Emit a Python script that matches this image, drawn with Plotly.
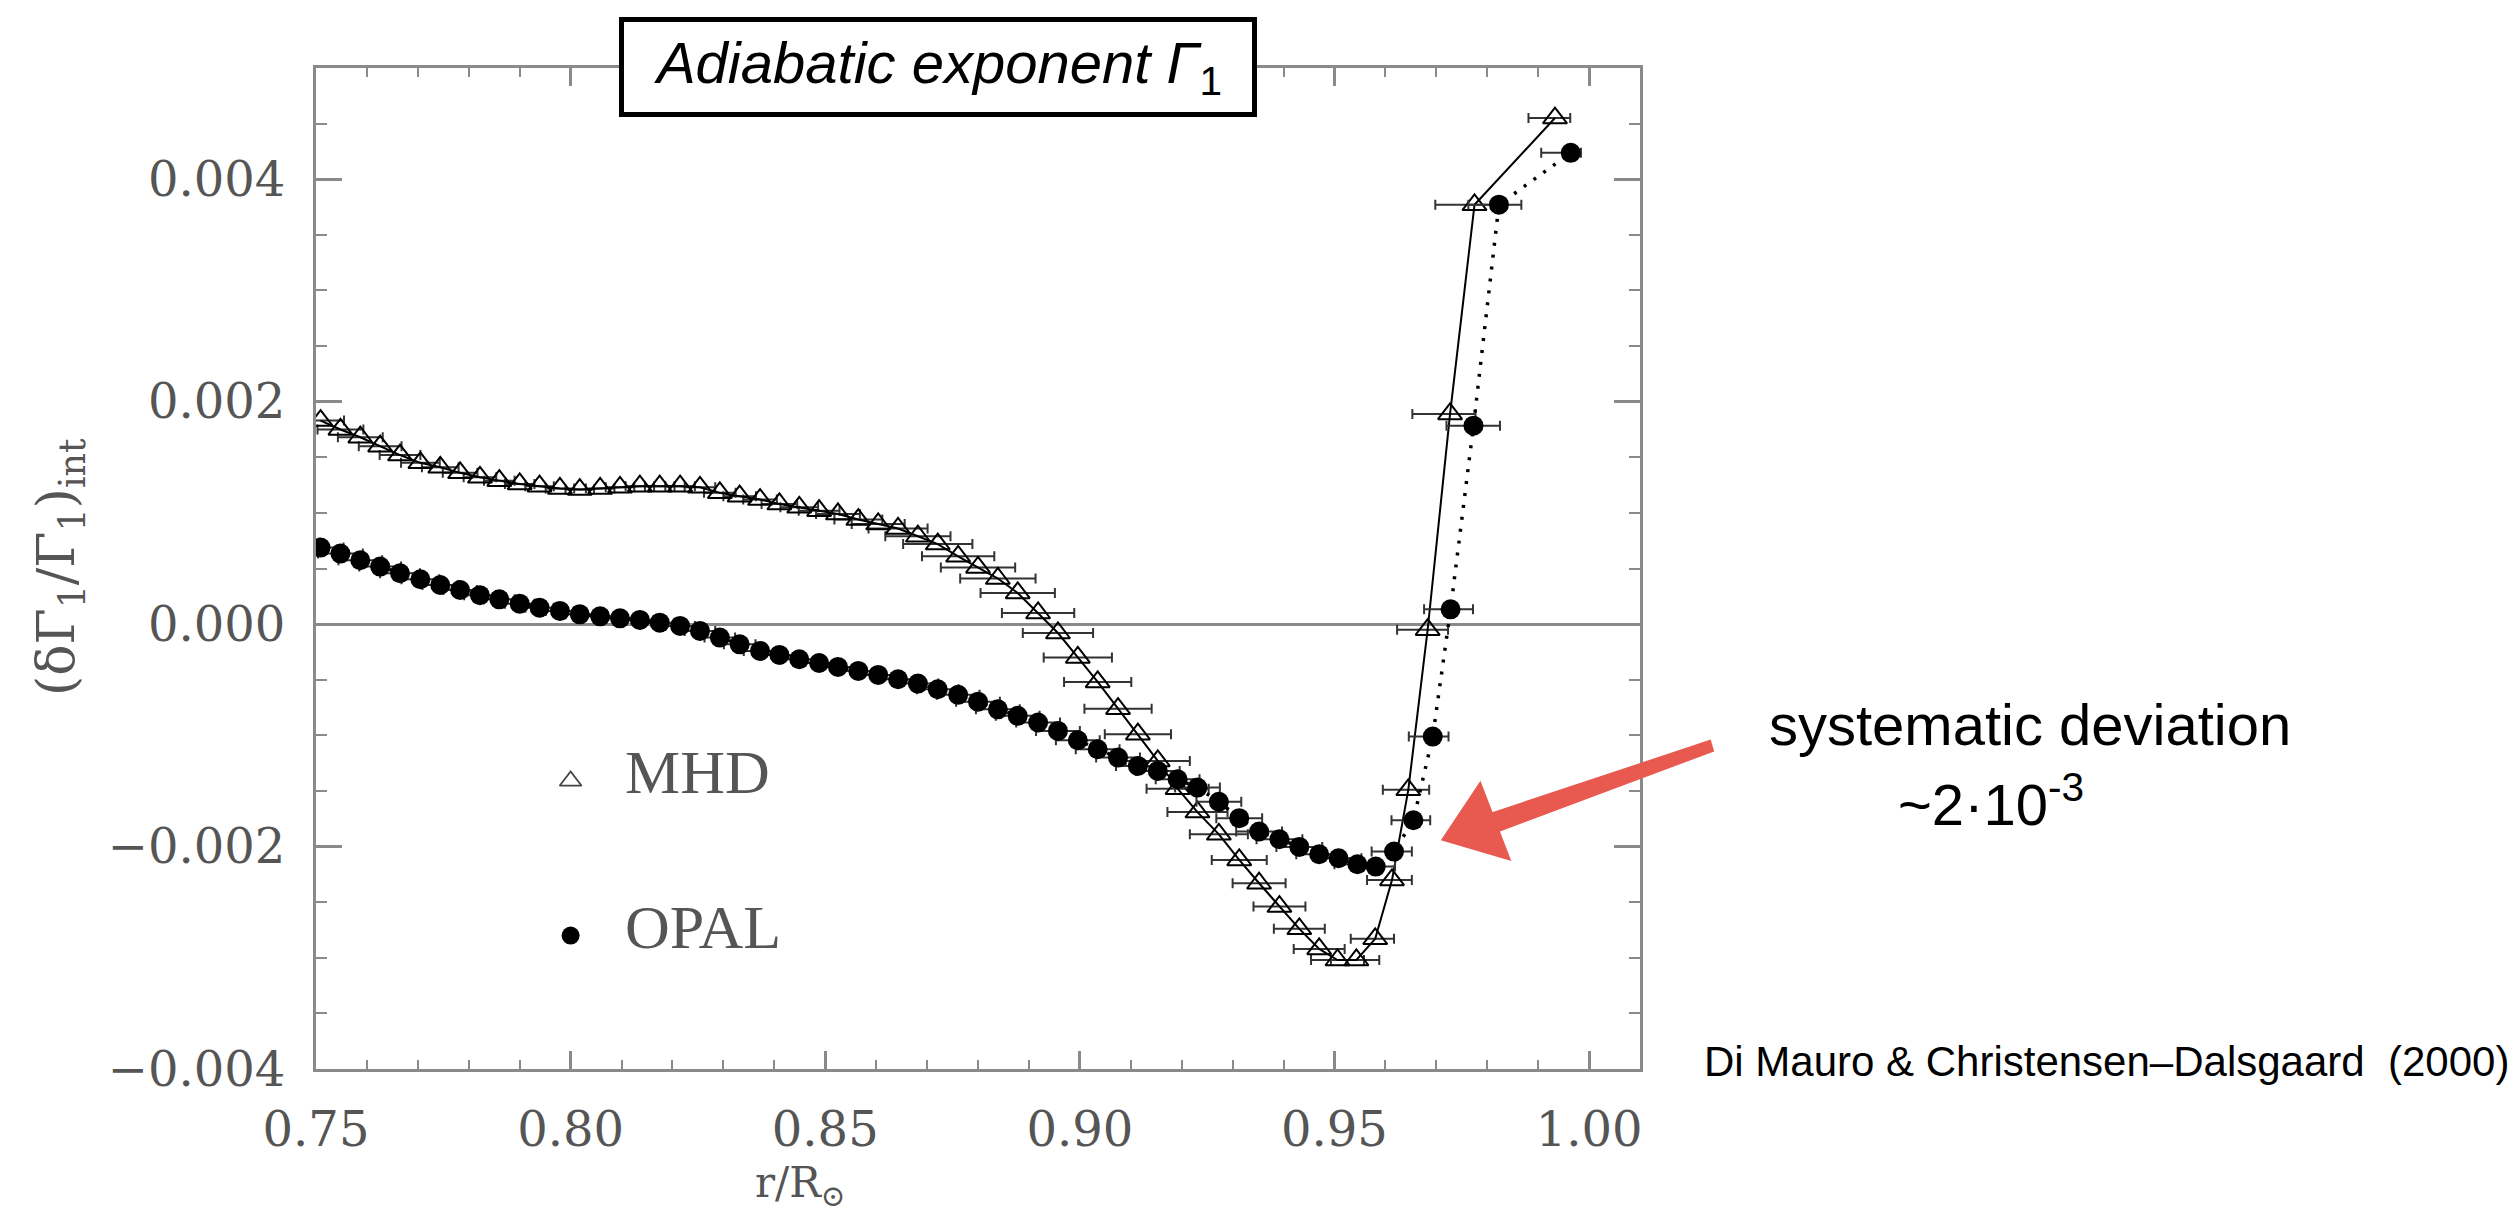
import plotly.graph_objects as go

# ---------------- data ----------------
opal_r = [0.7509, 0.7548, 0.7587, 0.7626, 0.7665, 0.7705, 0.7744, 0.7783, 0.7822, 0.7860,
          0.7900, 0.7939, 0.7979, 0.8018, 0.8058, 0.8097, 0.8136, 0.8175, 0.8215, 0.8254,
          0.8293, 0.8332, 0.8372, 0.8410, 0.8449, 0.8488, 0.8525, 0.8565, 0.8604, 0.8643,
          0.8682, 0.8721, 0.8761, 0.8800, 0.8839, 0.8878, 0.8918, 0.8957, 0.8996, 0.9035,
          0.9075, 0.9114, 0.9153, 0.9192, 0.9231, 0.9273, 0.9313, 0.9352, 0.9392, 0.9431,
          0.9470, 0.9508, 0.9545, 0.9581, 0.9617, 0.9655, 0.9693, 0.9728, 0.9773, 0.9823,
          0.9964]
opal_dg = [0.000688, 0.000634, 0.000574, 0.000517, 0.000457, 0.000403, 0.000352, 0.000307, 0.000259, 0.000223,
           0.000184, 0.000148, 0.000119, 0.000088, 0.000070, 0.000052, 0.000038, 0.000013, -0.000016, -0.000061,
           -0.000121, -0.000182, -0.000241, -0.000277, -0.000316, -0.000350, -0.000385, -0.000421, -0.000457, -0.000496,
           -0.000535, -0.000586, -0.000636, -0.000697, -0.000766, -0.000825, -0.000885, -0.000960, -0.001044, -0.001125,
           -0.001200, -0.001275, -0.001320, -0.001395, -0.001470, -0.001597, -0.001745, -0.001865, -0.001934, -0.002003,
           -0.002069, -0.002105, -0.002159, -0.002180, -0.002045, -0.001763, -0.001011, 0.000133, 0.001784, 0.003771,
           0.004237]
opal_err_minus = [0.0045, 0.0044, 0.0043, 0.0041, 0.0039, 0.0037, 0.0035, 0.0033, 0.0031,
                  0.0030, 0.0029, 0.0028, 0.0028, 0.0028, 0.0028, 0.0028, 0.0028, 0.0029, 0.0029, 0.0030, 0.0030,
                  0.0031, 0.0032, 0.0033, 0.0034, 0.0035, 0.0036, 0.0037, 0.0038, 0.0039,
                  0.0040, 0.0041, 0.0042, 0.0043, 0.0043, 0.0043, 0.0043, 0.0043, 0.0043, 0.0043, 0.0043, 0.0043, 0.0043, 0.0043,
                  0.0044, 0.0044, 0.0045, 0.0045, 0.0045, 0.0045, 0.0045, 0.0045,
                  0.0045, 0.0045, 0.0044, 0.0043, 0.0047, 0.0052, 0.0053, 0.0060, 0.0058]
opal_err_plus = [0.0045, 0.0044, 0.0043, 0.0041, 0.0039, 0.0037, 0.0035, 0.0033, 0.0031,
                 0.0030, 0.0029, 0.0028, 0.0028, 0.0028, 0.0028, 0.0028, 0.0028, 0.0029, 0.0029, 0.0030, 0.0030,
                 0.0031, 0.0032, 0.0033, 0.0034, 0.0035, 0.0036, 0.0037, 0.0038, 0.0039,
                 0.0040, 0.0041, 0.0042, 0.0043, 0.0043, 0.0043, 0.0043, 0.0043, 0.0043, 0.0043, 0.0043, 0.0043, 0.0043, 0.0043,
                 0.0044, 0.0044, 0.0045, 0.0045, 0.0045, 0.0045, 0.0045, 0.0045,
                 0.0040, 0.0038, 0.0035, 0.0033, 0.0031, 0.0044, 0.0052, 0.0044, 0.0020]

mhd_r = [0.7509, 0.7548, 0.7587, 0.7626, 0.7665, 0.7705, 0.7744, 0.7783, 0.7822, 0.7860,
         0.7900, 0.7939, 0.7979, 0.8018, 0.8058, 0.8097, 0.8136, 0.8175, 0.8215, 0.8254,
         0.8293, 0.8332, 0.8372, 0.8410, 0.8449, 0.8488, 0.8525, 0.8565, 0.8604, 0.8643,
         0.8682, 0.8721, 0.8761, 0.8800, 0.8839, 0.8878, 0.8918, 0.8957, 0.8996, 0.9035,
         0.9075, 0.9114, 0.9153, 0.9192, 0.9231, 0.9273, 0.9313, 0.9352, 0.9392, 0.9431,
         0.9470, 0.9506, 0.9543, 0.9580, 0.9613, 0.9645, 0.9683, 0.9727, 0.9775, 0.9933]
mhd_dg = [0.00183, 0.00175, 0.00168, 0.00160, 0.00152, 0.00145, 0.00141, 0.00136, 0.00132, 0.00129,
          0.00126, 0.00124, 0.00122, 0.00121, 0.00122, 0.00123, 0.00124, 0.00124, 0.00124, 0.00123,
          0.00118, 0.00115, 0.00112, 0.00108, 0.00105, 0.00102, 0.00099, 0.00094, 0.00090, 0.00086,
          0.00079, 0.00072, 0.00061, 0.00051, 0.00041, 0.00028, 0.00010, -0.00008, -0.00030, -0.00052,
          -0.00076, -0.00099, -0.00123, -0.00148, -0.00169, -0.00189, -0.00212, -0.00233, -0.00254, -0.00274,
          -0.00292, -0.00302, -0.00302, -0.00283, -0.00230, -0.00149, -0.00005, 0.00189, 0.00377, 0.00455]
mhd_err_minus = [0.0046, 0.0045, 0.0044, 0.0042, 0.0040, 0.0038, 0.0036, 0.0034, 0.0032,
                 0.0030, 0.0029, 0.0028, 0.0028, 0.0028, 0.0028, 0.0028, 0.0028, 0.0029, 0.0029, 0.0030, 0.0031,
                 0.0032, 0.0033, 0.0035, 0.0037, 0.0040, 0.0043, 0.0047, 0.0052, 0.0058,
                 0.0064, 0.0068, 0.0071, 0.0073, 0.0074, 0.0073, 0.0071, 0.0069, 0.0067, 0.0066, 0.0066, 0.0065, 0.0063, 0.0061,
                 0.0059, 0.0057, 0.0054, 0.0052, 0.0051, 0.0050, 0.0050, 0.0052,
                 0.0050, 0.0048, 0.0049, 0.0050, 0.0060, 0.0074, 0.0077, 0.0052]
mhd_err_plus = [0.0046, 0.0045, 0.0044, 0.0042, 0.0040, 0.0038, 0.0036, 0.0034, 0.0032,
                0.0030, 0.0029, 0.0028, 0.0028, 0.0028, 0.0028, 0.0028, 0.0028, 0.0029, 0.0029, 0.0030, 0.0031,
                0.0032, 0.0033, 0.0035, 0.0037, 0.0040, 0.0043, 0.0047, 0.0052, 0.0058,
                0.0064, 0.0068, 0.0071, 0.0073, 0.0074, 0.0073, 0.0071, 0.0069, 0.0067, 0.0066, 0.0066, 0.0065, 0.0063, 0.0061,
                0.0059, 0.0057, 0.0054, 0.0052, 0.0051, 0.0050, 0.0050, 0.0052,
                0.0045, 0.0037, 0.0039, 0.0041, 0.0040, 0.0050, 0.0035, 0.0030]

x_range = [0.75, 1.01]
y_range = [-0.004, 0.005]
x_ticks = [0.75, 0.80, 0.85, 0.90, 0.95, 1.00]
y_ticks = [-0.004, -0.002, 0.000, 0.002, 0.004]

legend_labels = ["MHD", "OPAL"]
legend_r = [0.800, 0.800]
legend_dg = [-0.00141, -0.00280]

# ---------------- figure geometry ----------------
W, H = 2517, 1209
ML, MR, MT, MB = 308, 885, 60, 148
PW, PH = W - ML - MR, H - MT - MB


def paper(px, py):
    return (px - ML) / PW, (H - MB - py) / PH


AX_GREY = "#8a8a8a"
TXT_GREY = "#555555"
SERIF = "DejaVu Serif"
LSERIF = "Liberation Serif"
SANS = "Liberation Sans"
RED = "#E8594F"
BAR = "#333333"

fig = go.Figure()

fig.add_trace(go.Scatter(
    x=mhd_r, y=mhd_dg, mode="lines+markers", name="MHD",
    line=dict(color="black", width=2),
    marker=dict(symbol="triangle-up-open", size=21, color="black", line=dict(width=2, color="black")),
    error_x=dict(type="data", symmetric=False, array=mhd_err_plus, arrayminus=mhd_err_minus,
                 color=BAR, thickness=2, width=5),
))
fig.add_trace(go.Scatter(
    x=opal_r, y=opal_dg, mode="lines+markers", name="OPAL",
    line=dict(color="black", width=3.5, dash="3px,9px"),
    marker=dict(symbol="circle", size=20, color="black"),
    error_x=dict(type="data", symmetric=False, array=opal_err_plus, arrayminus=opal_err_minus,
                 color=BAR, thickness=2, width=5),
))
# legend glyphs drawn inside the plot
fig.add_trace(go.Scatter(
    x=[legend_r[0]], y=[legend_dg[0]], mode="markers",
    marker=dict(symbol="triangle-up-open", size=19, color="#444", line=dict(width=1.8, color="#444")),
    hoverinfo="skip"))
fig.add_trace(go.Scatter(
    x=[legend_r[1]], y=[legend_dg[1]], mode="markers",
    marker=dict(symbol="circle", size=18, color="black"), hoverinfo="skip"))

axis_common = dict(
    showline=True, linecolor=AX_GREY, linewidth=3, mirror="ticks",
    showgrid=False, ticks="inside", tickcolor=AX_GREY, tickwidth=2.5,
    tickfont=dict(family=SERIF, size=48, color=TXT_GREY),
)
fig.update_xaxes(
    range=x_range, tickvals=x_ticks, ticktext=[f"{v:.2f}" for v in x_ticks],
    ticklen=18, zeroline=False, ticklabelstandoff=16,
    minor=dict(dtick=0.01, tick0=0.75, ticklen=9, ticks="inside", tickcolor=AX_GREY, tickwidth=2),
    **axis_common)
fig.update_yaxes(
    range=y_range, tickvals=y_ticks, ticktext=[f"{v:.3f}".replace("-", "\u2212") for v in y_ticks],
    ticklen=26, zeroline=True, zerolinecolor=AX_GREY, zerolinewidth=3, ticklabelstandoff=18,
    minor=dict(dtick=0.0005, tick0=0, ticklen=11, ticks="inside", tickcolor=AX_GREY, tickwidth=2),
    **axis_common)

annotations = []
# legend texts
for lab, yv in zip(legend_labels, legend_dg):
    annotations.append(dict(x=0.8102, y=yv + 0.00008, xref="x", yref="y", text=lab, showarrow=False,
                            xanchor="left", yanchor="middle",
                            font=dict(family=LSERIF, size=62, color=TXT_GREY)))
# axis titles
ax_, ay_ = paper(52, 559)
annotations.append(dict(x=ax_, y=ay_, xref="paper", yref="paper", textangle=-90,
                        text="(\u03b4\u0393<sub>1</sub>/\u0393<sub>1</sub>)<sub>int</sub>",
                        showarrow=False, xanchor="center", yanchor="middle",
                        font=dict(family=SERIF, size=52, color=TXT_GREY)))
bx, by = paper(792, 1207)
annotations.append(dict(x=bx, y=by, xref="paper", yref="paper", text="r/R<sub>\u2299</sub>",
                        showarrow=False, xanchor="center", yanchor="bottom",
                        font=dict(family=SERIF, size=42, color=TXT_GREY)))
# boxed title
tx, ty = paper(929.5, 59)
annotations.append(dict(x=tx, y=ty, xref="paper", yref="paper",
                        text="<i>Adiabatic exponent \u0393</i><sub>1</sub>",
                        showarrow=False, xanchor="center", yanchor="middle",
                        width=628, height=90, borderpad=0, bgcolor="white",
                        bordercolor="black", borderwidth=5,
                        font=dict(family=SANS, size=58, color="black")))
# right-hand notes
sx, sy = paper(1759, 716)
annotations.append(dict(x=sx, y=sy, xref="paper", yref="paper", text="systematic deviation",
                        showarrow=False, xanchor="left", yanchor="middle",
                        font=dict(family=SANS, size=58, color="black")))
dx, dy = paper(1888, 792)
annotations.append(dict(x=dx, y=dy, xref="paper", yref="paper", text="~2\u00b710<sup>-3</sup>",
                        showarrow=False, xanchor="left", yanchor="middle",
                        font=dict(family=SANS, size=58, color="black")))
cx, cy = paper(1694, 1053)
annotations.append(dict(x=cx, y=cy, xref="paper", yref="paper",
                        text="Di Mauro &amp; Christensen\u2013Dalsgaard  (2000)",
                        showarrow=False, xanchor="left", yanchor="middle",
                        font=dict(family=SANS, size=42, color="black")))

# red hand-drawn-style arrow (shaft + head)
def path_from(points):
    pts = [paper(px, py) for px, py in points]
    return "M " + " L ".join(f"{a:.5f},{b:.5f}" for a, b in pts) + " Z"

shaft = [(1704.3, 742.5), (1701.7, 733.5), (1482.3, 806.4), (1487.7, 823.6)]
head = [(1436, 831), (1472, 777), (1500, 850)]
shapes = [
    dict(type="path", xref="paper", yref="paper", path=path_from(shaft),
         fillcolor=RED, line=dict(color=RED, width=3), layer="above"),
    dict(type="path", xref="paper", yref="paper", path=path_from(head),
         fillcolor=RED, line=dict(color=RED, width=4), layer="above"),
]

fig.update_layout(
    width=W, height=H, autosize=False,
    margin=dict(l=ML, r=MR, t=MT, b=MB),
    plot_bgcolor="white", paper_bgcolor="white",
    showlegend=False, annotations=annotations, shapes=shapes,
)

fig.write_html("out.html")
